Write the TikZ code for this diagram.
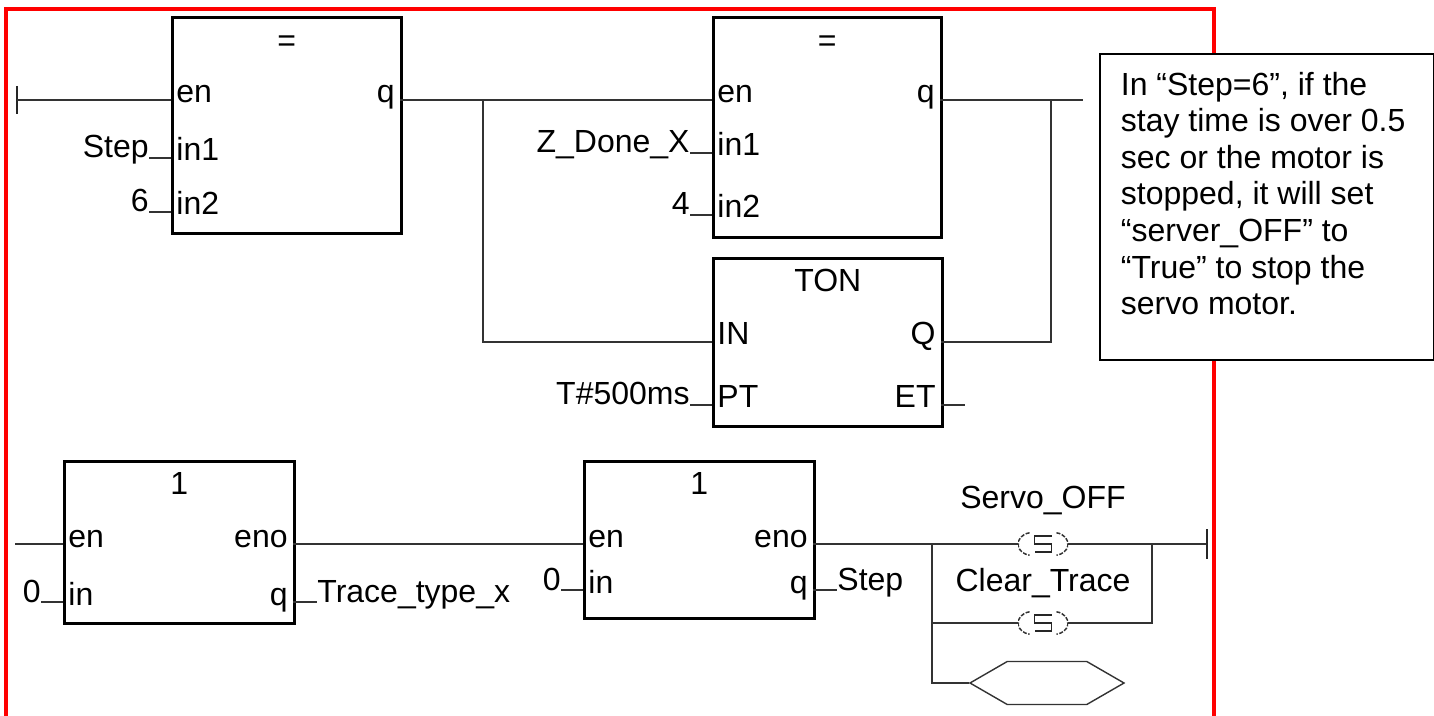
\documentclass[tikz,border=0pt]{standalone}
\usepackage{fontspec}
\setmainfont{Liberation Sans}
\usetikzlibrary{positioning,shapes.symbols}
\newcommand{\fbfont}{\fontsize{16}{19}\selectfont}
\tikzset{
    fb-box/.style = {draw, line width=1.3pt, rectangle, inner sep=0pt, anchor=north west},
    fb-title/.style = {inner sep=0pt, text height=11.5pt, text depth=0pt, font=\fbfont},
    pin-in/.style = {anchor=west, inner xsep=2.5pt, inner ysep=0pt, text height=10pt, text depth=7pt, font=\fbfont},
    pin-out/.style = {pin-in, anchor=east},
    pin-var/.style = {inner sep=0pt, text height=8pt, text depth=8pt, font=\fbfont},
    wire/.style = {draw=black!80, line width=0.7pt},
    rail/.style = {draw=black!85, line width=1pt},
    frame/.style = {draw=red, line width=2pt},
    coil/.style = {rectangle, inner sep=0pt, minimum width=25pt, minimum height=12pt,
        path picture={
            \draw[black!80, line width=0.75pt, dash pattern=on 2pt off 0.8pt] ([shift={(5.78pt,5.6pt)}]path picture bounding box.west) arc[start angle=100, end angle=260, x radius=7pt, y radius=5.7pt];
            \draw[black!80, line width=0.75pt, dash pattern=on 2pt off 0.8pt] ([shift={(-5.78pt,5.6pt)}]path picture bounding box.east) arc[start angle=80, end angle=-80, x radius=7pt, y radius=5.7pt];
            \draw[black!85, line width=0.75pt] ([shift={(4.25pt,3.9pt)}]path picture bounding box.center) -- ++(-8.5pt,0) -- ++(0,-3.9pt) -- ++(8.5pt,0) -- ++(0,-3.9pt) -- ++(-8.5pt,0);
        }},
    ret-box/.style = {shape=signal, signal to=west and east, signal pointer angle=60, draw=black!80, line width=0.7pt, inner sep=0pt, minimum width=77pt, minimum height=21.5pt},
    note-box/.style = {draw, line width=0.9pt, fill=white, rectangle, anchor=north west, inner xsep=10.5pt, inner ysep=9pt, font=\fontsize{16}{18.3}\selectfont},
}
\begin{document}
\begin{tikzpicture}[x=0.5pt, y=-0.5pt]
\useasboundingbox (0,0) rectangle (1434,716);
\draw[frame] (6,730) -- (6,9) -- (1214,9) -- (1214,730);

\node[fb-box, minimum width=114.5pt, minimum height=108pt] (eq1) at (171,16) {};
\node[fb-title] (eq1-t) at ([yshift=-12pt]eq1.north) {=};
\node[pin-in] (eq1-en) at (171,100) {en};
\node[pin-in] (eq1-in1) at (171,158) {in1};
\node[pin-in] (eq1-in2) at (171,212) {in2};
\node[pin-out] (eq1-q) at (400,100) {q};
\node[pin-var, left=11pt of eq1-in1] (v-step) {Step};
\node[pin-var, left=11pt of eq1-in2] (v-six) {6};

\node[fb-box, minimum width=114pt, minimum height=110pt] (eq2) at (712,16) {};
\node[fb-title] (eq2-t) at ([yshift=-12pt]eq2.north) {=};
\node[pin-in] (eq2-en) at (712,100) {en};
\node[pin-in] (eq2-in1) at (712,153) {in1};
\node[pin-in] (eq2-in2) at (712,215) {in2};
\node[pin-out] (eq2-q) at (940,100) {q};
\node[pin-var, left=11pt of eq2-in1] (v-zdone) {Z\_Done\_X};
\node[pin-var, left=11pt of eq2-in2] (v-four) {4};

\node[fb-box, minimum width=114.5pt, minimum height=84pt] (ton) at (712,257) {};
\node[fb-title] (ton-t) at ([yshift=-11.5pt]ton.north) {TON};
\node[pin-in] (ton-in) at (712,342) {IN};
\node[pin-in] (ton-pt) at (712,405) {PT};
\node[pin-out] (ton-q) at (941,342) {Q};
\node[pin-out] (ton-et) at (941,405) {ET};
\node[pin-var, left=11pt of ton-pt] (v-time) {T\#500ms};

\coordinate (rail-l) at (17,100);
\coordinate (j1) at (483,100);
\coordinate (j2) at (1051,100);
\coordinate (eq2-end) at (1083,100);
\draw[rail] ([yshift=7pt]rail-l) -- ([yshift=-7pt]rail-l);
\draw[wire] (rail-l) -- (eq1-en.west);
\draw[wire] (eq1-q.east) -- (eq2-en.west);
\draw[wire] (j1) |- (ton-in.west);
\draw[wire] (eq2-q.east) -- (eq2-end);
\draw[wire] (ton-q.east) -| (j2);
\draw[wire] (ton-et.east) -- ++(24,0);
\draw[wire] (v-step.east) -- (eq1-in1.west);
\draw[wire] (v-six.east) -- (eq1-in2.west);
\draw[wire] (v-zdone.east) -- (eq2-in1.west);
\draw[wire] (v-four.east) -- (eq2-in2.west);
\draw[wire] (v-time.east) -- (ton-pt.west);

\node[fb-box, minimum width=115pt, minimum height=81pt] (mov1) at (63,460) {};
\node[fb-title] (mov1-t) at ([yshift=-11.5pt]mov1.north) {1};
\node[pin-in] (mov1-en) at (63,544) {en};
\node[pin-in] (mov1-in) at (63,602) {in};
\node[pin-out] (mov1-eno) at (293,544) {eno};
\node[pin-out] (mov1-q) at (293,602) {q};
\node[pin-var, left=11pt of mov1-in] (v-zero1) {0};
\node[pin-var, right=12pt of mov1-q] (v-trace) {Trace\_type\_x};

\node[fb-box, minimum width=115pt, minimum height=78.5pt] (mov2) at (583,460) {};
\node[fb-title] (mov2-t) at ([yshift=-11.5pt]mov2.north) {1};
\node[pin-in] (mov2-en) at (583,544) {en};
\node[pin-in] (mov2-in) at (583,590) {in};
\node[pin-out] (mov2-eno) at (813,544) {eno};
\node[pin-out] (mov2-q) at (813,590) {q};
\node[pin-var, left=11pt of mov2-in] (v-zero2) {0};
\node[pin-var, right=12pt of mov2-q] (v-step2) {Step};

\node[coil] (coil1) at (1043,544) {};
\node[coil] (coil2) at (1043,623) {};
\node[fb-title, above=11.6pt of coil1] (n-servo) {Servo\_OFF};
\node[fb-title, above=9.6pt of coil2] (n-clear) {Clear\_Trace};
\node[ret-box] (ret) at (1047,683) {};

\coordinate (rail-l2) at (15,544);
\coordinate (j3) at (932,544);
\coordinate (j4) at (1152,544);
\coordinate (rail-r) at (1207,544);
\draw[wire] (rail-l2) -- (mov1-en.west);
\draw[wire] (mov1-eno.east) -- (mov2-en.west);
\draw[wire] (v-zero1.east) -- (mov1-in.west);
\draw[wire] (mov1-q.east) -- (v-trace.west);
\draw[wire] (v-zero2.east) -- (mov2-in.west);
\draw[wire] (mov2-q.east) -- (v-step2.west);
\draw[wire] (mov2-eno.east) -- (coil1.west);
\draw[wire] (coil1.east) -- (rail-r);
\draw[rail] ([yshift=7.5pt]rail-r) -- ([yshift=-7.5pt]rail-r);
\draw[wire] (j3) |- (coil2.west);
\draw[wire] (coil2.east) -| (j4);
\draw[wire] (j3) |- (ret.west);

\node[note-box] (note) at (1099,53) {\begin{minipage}[t][135pt][t]{146pt}\raggedright
In “Step=6”, if the\\
stay time is over 0.5\\
sec or the motor is\\
stopped, it will set\\
“server\_OFF” to\\
“True” to stop the\\
servo motor.
\end{minipage}};
\end{tikzpicture}
\end{document}
